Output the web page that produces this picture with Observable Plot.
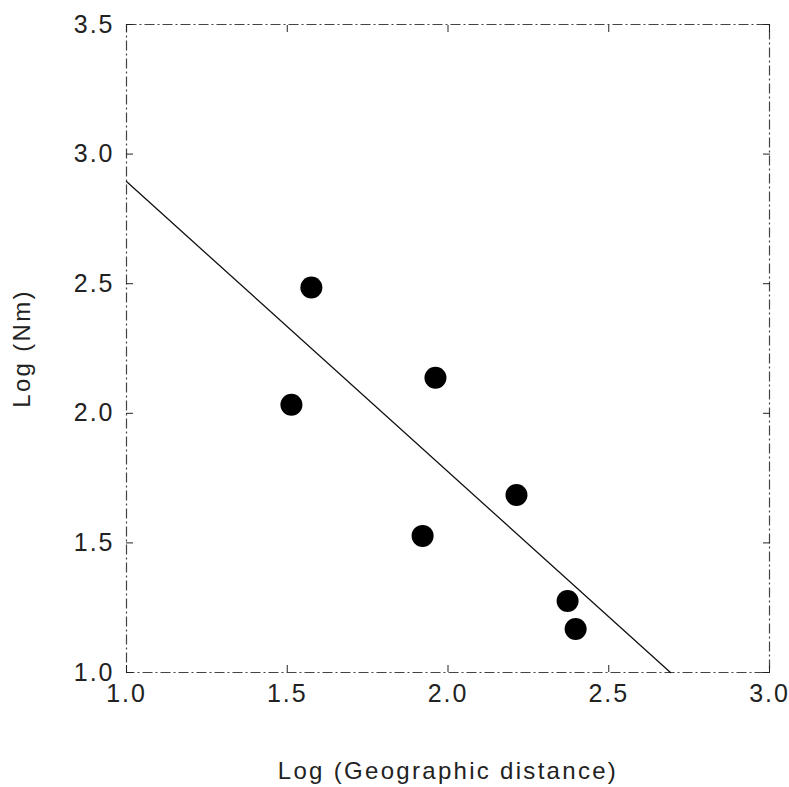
<!DOCTYPE html>
<html><head><meta charset="utf-8">
<script src="https://cdn.jsdelivr.net/npm/d3@7"></script>
<script src="https://cdn.jsdelivr.net/npm/@observablehq/plot@0.6"></script>
<style>
html,body{margin:0;padding:0;background:#fff;}
svg text{font-family:"Liberation Sans",Arial,sans-serif;}
g[aria-label="x-axis tick label"] text, g[aria-label="y-axis tick label"] text{letter-spacing:2px;}
g.title text{letter-spacing:2.3px;}
</style>
</head><body><div id="chart"></div>
<script>
// Scatter points: log geographic distance vs log Nm
const distX = [1.575, 1.513, 1.961, 1.921, 2.213, 2.372, 2.397];
const nmY   = [2.485, 2.033, 2.137, 1.527, 1.685, 1.276, 1.168];
// Regression line end points
const fitX = [1.0, 2.692];
const fitY = [2.894, 1.0];
// Tick values
const xTicks = [1.0, 1.5, 2.0, 2.5, 3.0];
const yTicks = [1.0, 1.5, 2.0, 2.5, 3.0, 3.5];
// Axis titles
const xTitle = ["Log (Geographic distance)"];
const yTitle = ["Log (Nm)"];

const points = distX.map((x, i) => ({x, y: nmY[i]}));
const fit = fitX.map((x, i) => ({x, y: fitY[i]}));

const ink = "#222";
const fmt = d3.format(".1f");
const chart = Plot.plot({
  width: 789, height: 787,
  marginLeft: 126, marginRight: 20, marginTop: 24, marginBottom: 115,
  style: {background: "#fff", color: ink},
  x: {domain: [1, 3]},
  y: {domain: [1, 3.5]},
  marks: [
    Plot.frame({stroke: "#444", strokeDasharray: "10,3,2,3", strokeWidth: 1.2}),
    Plot.axisX(xTicks, {anchor: "bottom", tickSize: -7, tickPadding: 19, tickFormat: fmt, fontSize: 25, fill: ink, label: null}),
    Plot.axisX(xTicks, {anchor: "top", tickSize: -7, tickFormat: () => null, label: null}),
    Plot.axisY(yTicks, {anchor: "left", tickSize: -7, tickPadding: 19, tickFormat: fmt, fontSize: 25, fill: ink, label: null}),
    Plot.axisY(yTicks, {anchor: "right", tickSize: -7, tickFormat: () => null, label: null}),
    Plot.line(fit, {x: "x", y: "y", stroke: "#111", strokeWidth: 1.3}),
    Plot.dot(points, {x: "x", y: "y", r: 11, fill: "#000"}),
    Plot.text(xTitle, {frameAnchor: "bottom", dy: 106, text: d => d, fontSize: 24, fill: ink, className: "title"}),
    Plot.text(yTitle, {frameAnchor: "left", textAnchor: "middle", dx: -104, rotate: -90, text: d => d, fontSize: 24, fill: ink, className: "title"})
  ]
});
document.getElementById("chart").appendChild(chart);
</script>
</body></html>
